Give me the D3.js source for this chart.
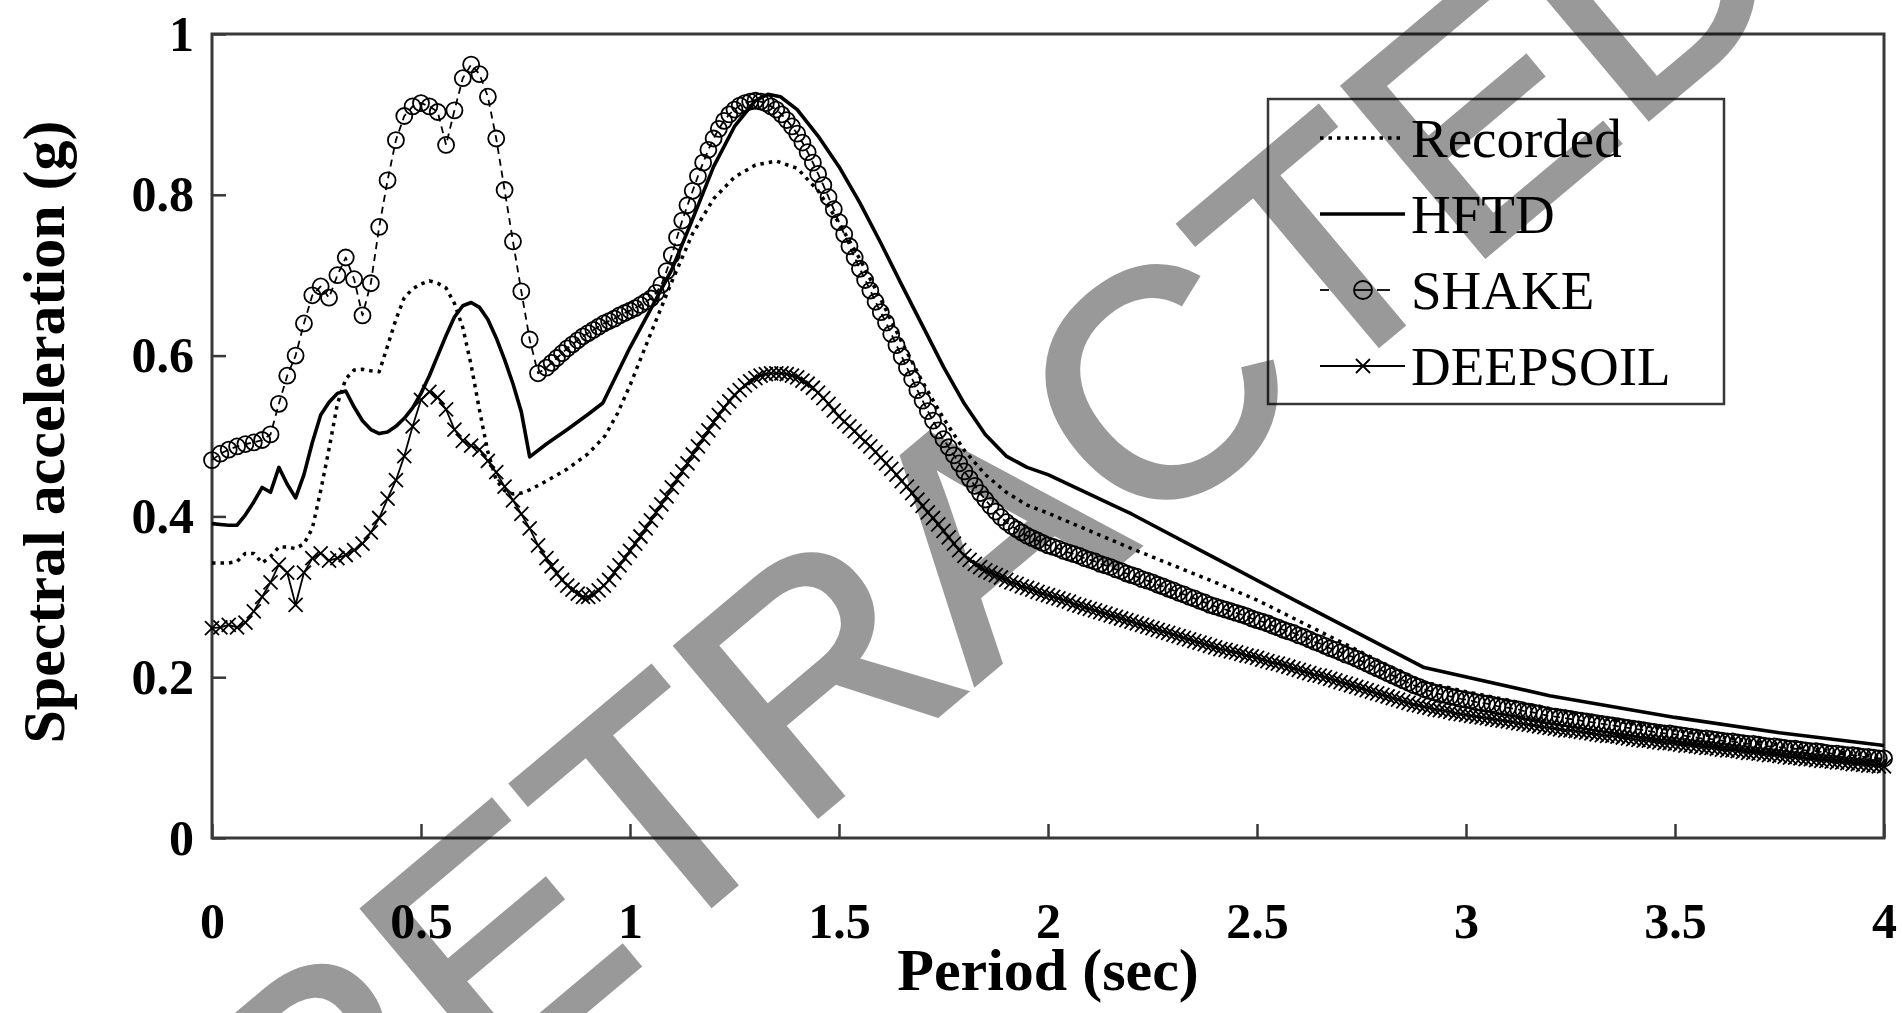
<!DOCTYPE html>
<html>
<head>
<meta charset="utf-8">
<script src="https://cdn.jsdelivr.net/npm/d3@7"></script>
<style>
  html, body { margin: 0; padding: 0; background: #fff; }
  svg { display: block; }
</style>
</head>
<body>
<svg id="chart" width="1902" height="1013"></svg>
<script>
// ---- Axis ticks -------------------------------------------------------
const periodTicks = [0, 0.5, 1, 1.5, 2, 2.5, 3, 3.5, 4];
const accelTicks = [0, 0.2, 0.4, 0.6, 0.8, 1];
const seriesNames = ["Recorded", "HFTD", "SHAKE", "DEEPSOIL"];

// ---- Recorded motion spectrum: [period (s), Sa (g)] ---------------------
const recorded = [
  [0,0.342],[0.02,0.342],[0.04,0.342],[0.06,0.344],[0.08,0.354],[0.10,0.354],[0.12,0.342],[0.14,0.350],
  [0.16,0.362],[0.18,0.362],[0.20,0.360],[0.22,0.366],[0.24,0.385],[0.26,0.432],[0.28,0.484],[0.30,0.540],
  [0.32,0.571],[0.34,0.582],[0.36,0.583],[0.38,0.581],[0.40,0.580],[0.42,0.612],[0.44,0.645],[0.46,0.672],
  [0.48,0.683],[0.50,0.689],[0.52,0.693],[0.54,0.690],[0.56,0.684],[0.58,0.665],[0.60,0.635],[0.62,0.588],
  [0.64,0.532],[0.66,0.480],[0.68,0.445],[0.70,0.432],[0.72,0.428],[0.74,0.429],[0.76,0.433],
  [0.80,0.444],[0.85,0.459],[0.90,0.478],[0.94,0.500],[0.97,0.528],[1.00,0.563],[1.05,0.628],[1.10,0.692],
  [1.15,0.752],[1.20,0.795],[1.25,0.822],[1.30,0.837],[1.35,0.842],[1.40,0.833],[1.45,0.805],[1.50,0.765],
  [1.55,0.720],[1.60,0.670],[1.65,0.617],[1.70,0.567],[1.75,0.522],[1.80,0.482],[1.85,0.452],[1.90,0.430],
  [1.95,0.414],[2.00,0.404],[2.10,0.382],[2.20,0.360],[2.30,0.339],[2.40,0.318],[2.50,0.296],[2.60,0.270],
  [2.70,0.244],[2.80,0.218],[2.90,0.194],[3.00,0.182],[3.20,0.161],[3.40,0.142],[3.60,0.126],[3.80,0.112],
  [4.00,0.101]
];

// ---- HFTD spectrum: [period (s), Sa (g)] --------------------------------
const hftd = [
  [0,0.391],[0.02,0.390],[0.04,0.389],[0.06,0.389],[0.08,0.402],[0.10,0.418],[0.12,0.436],[0.14,0.430],
  [0.16,0.461],[0.18,0.440],[0.20,0.423],[0.22,0.452],[0.24,0.492],[0.26,0.526],[0.28,0.542],[0.30,0.553],
  [0.32,0.556],[0.34,0.536],[0.36,0.519],[0.38,0.508],[0.40,0.503],[0.42,0.505],[0.44,0.512],[0.46,0.522],
  [0.48,0.535],[0.50,0.553],[0.52,0.575],[0.54,0.600],[0.56,0.625],[0.58,0.648],[0.60,0.662],[0.62,0.666],
  [0.64,0.660],[0.66,0.645],[0.68,0.622],[0.70,0.595],[0.72,0.565],[0.74,0.530],[0.76,0.474],[0.80,0.490],
  [0.85,0.508],[0.90,0.527],[0.935,0.541],[1.00,0.610],[1.05,0.658],[1.10,0.707],[1.15,0.770],[1.20,0.835],
  [1.25,0.885],[1.30,0.917],[1.33,0.925],[1.36,0.922],[1.40,0.906],[1.45,0.873],[1.50,0.835],[1.55,0.790],
  [1.60,0.740],[1.65,0.688],[1.70,0.637],[1.75,0.586],[1.80,0.540],[1.85,0.502],[1.90,0.475],[1.95,0.461],
  [2.00,0.452],[2.20,0.403],[2.40,0.348],[2.60,0.293],[2.80,0.239],[2.90,0.212],[3.20,0.177],[3.50,0.150],
  [3.75,0.131],[4.00,0.115]
];

// ---- SHAKE / DEEPSOIL output periods -----------------------------------
// 0.02 s spacing up to 0.78 s, 0.0125 s spacing from 0.8 s to 4 s
const shortPeriods = d3.range(0, 0.79, 0.02);
const longPeriods = d3.range(0.8, 4.0001, 0.0125);

const shakeShort = [
  0.470,0.478,0.483,0.487,0.490,0.492,0.495,0.502,0.540,0.575,
  0.600,0.640,0.675,0.686,0.672,0.700,0.722,0.695,0.650,0.690,
  0.760,0.818,0.868,0.898,0.910,0.914,0.910,0.903,0.862,0.905,
  0.945,0.962,0.950,0.922,0.870,0.806,0.742,0.680,0.620,0.578
];
const shakeLong = [
  0.585,0.591,0.597,0.603,0.609,0.614,0.619,0.624,
  0.628,0.632,0.636,0.640,0.643,0.646,0.650,0.653,
  0.656,0.659,0.663,0.667,0.671,0.678,0.688,0.705,
  0.725,0.747,0.768,0.787,0.805,0.823,0.840,0.856,
  0.870,0.882,0.892,0.900,0.906,0.911,0.914,0.916,
  0.917,0.916,0.914,0.910,0.906,0.900,0.893,0.885,
  0.876,0.865,0.853,0.840,0.826,0.812,0.797,0.782,
  0.766,0.751,0.736,0.722,0.708,0.694,0.681,0.667,
  0.654,0.641,0.627,0.613,0.599,0.585,0.571,0.557,
  0.544,0.531,0.519,0.507,0.496,0.486,0.476,0.466,
  0.456,0.447,0.438,0.429,0.421,0.413,0.406,0.399,
  0.393,0.388,0.384,0.380,0.376,0.373,0.370,0.367,
  0.364,0.362,0.360,0.357,0.355,0.353,0.351,0.348,
  0.346,0.344,0.341,0.339,0.337,0.334,0.332,0.329,
  0.327,0.325,0.322,0.320,0.318,0.315,0.313,0.310,
  0.308,0.305,0.303,0.300,0.298,0.295,0.293,0.290,
  0.288,0.286,0.284,0.282,0.280,0.278,0.276,0.273,
  0.271,0.269,0.267,0.264,0.262,0.259,0.257,0.255,
  0.252,0.250,0.247,0.244,0.242,0.239,0.236,0.234,
  0.231,0.228,0.226,0.223,0.220,0.217,0.214,0.211,
  0.208,0.205,0.202,0.199,0.196,0.193,0.190,0.188,
  0.185,0.183,0.181,0.179,0.178,0.176,0.175,0.173,
  0.172,0.171,0.169,0.168,0.167,0.166,0.164,0.163,
  0.162,0.161,0.160,0.158,0.157,0.156,0.155,0.153,
  0.152,0.151,0.150,0.149,0.148,0.147,0.146,0.145,
  0.144,0.143,0.142,0.141,0.140,0.139,0.138,0.137,
  0.136,0.135,0.134,0.133,0.132,0.131,0.130,0.130,
  0.129,0.128,0.127,0.126,0.125,0.124,0.124,0.123,
  0.122,0.121,0.120,0.120,0.119,0.118,0.117,0.117,
  0.116,0.115,0.114,0.114,0.113,0.112,0.111,0.111,
  0.110,0.109,0.108,0.108,0.107,0.106,0.105,0.105,
  0.104,0.103,0.103,0.102,0.101,0.101,0.100,0.099,
  0.099
];

const deepsoilShort = [
  0.261,0.262,0.265,0.262,0.268,0.282,0.300,0.318,0.340,0.330,
  0.290,0.330,0.348,0.354,0.345,0.348,0.352,0.358,0.366,0.380,
  0.398,0.422,0.445,0.475,0.512,0.545,0.555,0.548,0.533,0.508,
  0.494,0.488,0.483,0.469,0.455,0.437,0.420,0.403,0.385,0.364
];
const deepsoilLong = [
  0.348,0.338,0.329,0.321,0.314,0.309,0.304,0.300,
  0.300,0.303,0.308,0.314,0.321,0.330,0.339,0.348,
  0.357,0.366,0.375,0.385,0.395,0.405,0.415,0.425,
  0.436,0.446,0.456,0.466,0.477,0.487,0.497,0.507,
  0.517,0.526,0.535,0.543,0.551,0.557,0.563,0.568,
  0.572,0.575,0.577,0.578,0.578,0.578,0.577,0.575,
  0.573,0.569,0.565,0.560,0.554,0.547,0.540,0.532,
  0.524,0.518,0.512,0.506,0.499,0.493,0.487,0.480,
  0.473,0.466,0.459,0.452,0.444,0.437,0.429,0.421,
  0.413,0.405,0.398,0.390,0.382,0.374,0.366,0.358,
  0.351,0.346,0.341,0.337,0.333,0.330,0.327,0.324,
  0.321,0.318,0.316,0.313,0.311,0.309,0.306,0.304,
  0.302,0.300,0.298,0.296,0.294,0.291,0.289,0.287,
  0.285,0.283,0.281,0.279,0.277,0.275,0.273,0.271,
  0.269,0.267,0.265,0.263,0.261,0.259,0.257,0.255,
  0.253,0.251,0.249,0.247,0.245,0.243,0.241,0.239,
  0.237,0.235,0.234,0.232,0.231,0.229,0.227,0.226,
  0.224,0.222,0.220,0.218,0.217,0.215,0.213,0.211,
  0.209,0.207,0.205,0.203,0.202,0.200,0.198,0.196,
  0.194,0.192,0.190,0.188,0.186,0.184,0.182,0.180,
  0.178,0.176,0.174,0.172,0.170,0.168,0.166,0.165,
  0.163,0.162,0.160,0.159,0.158,0.157,0.155,0.154,
  0.153,0.152,0.151,0.150,0.149,0.148,0.147,0.146,
  0.145,0.144,0.143,0.142,0.141,0.140,0.139,0.138,
  0.137,0.136,0.135,0.134,0.134,0.133,0.132,0.131,
  0.130,0.129,0.128,0.127,0.127,0.126,0.125,0.124,
  0.123,0.122,0.121,0.121,0.120,0.119,0.118,0.118,
  0.117,0.116,0.115,0.115,0.114,0.113,0.112,0.112,
  0.111,0.110,0.109,0.109,0.108,0.107,0.106,0.106,
  0.105,0.104,0.103,0.103,0.102,0.101,0.100,0.100,
  0.099,0.098,0.098,0.097,0.096,0.096,0.095,0.094,
  0.094,0.093,0.092,0.092,0.091,0.090,0.090,0.089,
  0.089
];

// ---- Build point series -------------------------------------------------
const zipPeriods = (periods, values) => periods.map((p, i) => [p, values[i]]);
const shake = zipPeriods(shortPeriods, shakeShort).concat(zipPeriods(longPeriods, shakeLong));
const deepsoil = zipPeriods(shortPeriods, deepsoilShort).concat(zipPeriods(longPeriods, deepsoilLong));

// ---- Layout -------------------------------------------------------------
const svg = d3.select("#chart");
const W = 1902, H = 1013;
const plot = { left: 212, right: 1884, top: 34, bottom: 838 };

svg.append("rect").attr("width", W).attr("height", H).attr("fill", "#fff");

const x = d3.scaleLinear().domain([0, 4]).range([plot.left, plot.right]);
const y = d3.scaleLinear().domain([0, 1]).range([plot.bottom, plot.top]);

const serif = "'Liberation Serif', 'Times New Roman', Times, serif";
const frameColor = "#383838";

// Axes with inward ticks
const yAxis = d3.axisLeft(y).tickValues(accelTicks).tickFormat(d => String(d))
  .tickSizeInner(-14).tickSizeOuter(0).tickPadding(18);
const xAxis = d3.axisBottom(x).tickValues(periodTicks).tickFormat(d => String(d))
  .tickSizeInner(-14).tickSizeOuter(0).tickPadding(64);

const gy = svg.append("g").attr("transform", `translate(${plot.left},0)`).call(yAxis);
const gx = svg.append("g").attr("transform", `translate(0,${plot.bottom})`).call(xAxis);
[gx, gy].forEach(g => {
  g.select(".domain").remove();
  g.selectAll(".tick line").attr("stroke", frameColor).attr("stroke-width", 2.5);
  g.selectAll(".tick text")
    .attr("fill", "#000")
    .style("font-family", serif)
    .style("font-weight", "bold")
    .style("font-size", "50px");
});

// Plot frame
svg.append("rect")
  .attr("x", plot.left).attr("y", plot.top)
  .attr("width", plot.right - plot.left).attr("height", plot.bottom - plot.top)
  .attr("fill", "none").attr("stroke", frameColor).attr("stroke-width", 3);

// Axis titles
svg.append("text")
  .attr("x", (plot.left + plot.right) / 2).attr("y", 990)
  .attr("text-anchor", "middle")
  .style("font-family", serif).style("font-weight", "bold").style("font-size", "60px")
  .text("Period (sec)");

svg.append("text")
  .attr("transform", `translate(64,${(plot.top + plot.bottom) / 2 - 4}) rotate(-90)`)
  .attr("text-anchor", "middle")
  .style("font-family", serif).style("font-weight", "bold").style("font-size", "60px")
  .text("Spectral acceleration (g)");

// ---- Series -------------------------------------------------------------
const line = d3.line().x(d => x(d[0])).y(d => y(d[1]));
const marks = svg.append("g");

const styles = {
  Recorded: { width: 3.5, dash: "3.5 5" },
  HFTD: { width: 3.6, dash: null },
  SHAKE: { width: 1.8, dash: "7 5" },
  DEEPSOIL: { width: 1.8, dash: null }
};

function drawLine(data, name) {
  const s = styles[name];
  marks.append("path")
    .datum(data)
    .attr("d", line)
    .attr("fill", "none")
    .attr("stroke", "#000")
    .attr("stroke-width", s.width)
    .attr("stroke-dasharray", s.dash)
    .attr("stroke-linejoin", "round");
}

drawLine(recorded, "Recorded");
drawLine(shake, "SHAKE");
drawLine(deepsoil, "DEEPSOIL");
drawLine(hftd, "HFTD");

const crossPath = "M-7,-7L7,7M-7,7L7,-7";

marks.append("g").selectAll("path")
  .data(deepsoil)
  .join("path")
  .attr("transform", d => `translate(${x(d[0])},${y(d[1])})`)
  .attr("d", crossPath)
  .attr("fill", "none")
  .attr("stroke", "#000")
  .attr("stroke-width", 1.8);

marks.append("g").selectAll("circle")
  .data(shake)
  .join("circle")
  .attr("cx", d => x(d[0]))
  .attr("cy", d => y(d[1]))
  .attr("r", 8)
  .attr("fill", "none")
  .attr("stroke", "#000")
  .attr("stroke-width", 1.8);

// ---- Legend -------------------------------------------------------------
const legend = svg.append("g");
legend.append("rect")
  .attr("x", 1268).attr("y", 99).attr("width", 456).attr("height", 305)
  .attr("fill", "#fff").attr("stroke", frameColor).attr("stroke-width", 2.5);

const rowY = [138, 214, 290, 366];
const sx0 = 1320, sx1 = 1405, sxm = 1363;

seriesNames.forEach((name, i) => {
  const yy = rowY[i];
  const s = styles[name];
  if (name === "SHAKE") {
    // dashed sample: short dash, dash through the marker, short dash
    [[sx0, sx0 + 9], [sxm - 8, sxm + 8], [sxm + 14, sxm + 27]].forEach(([a, b]) => {
      legend.append("line").attr("x1", a).attr("x2", b).attr("y1", yy).attr("y2", yy)
        .attr("stroke", "#000").attr("stroke-width", s.width);
    });
    legend.append("circle").attr("cx", sxm).attr("cy", yy).attr("r", 9)
      .attr("fill", "none").attr("stroke", "#000").attr("stroke-width", 1.8);
  } else {
    legend.append("line").attr("x1", sx0).attr("x2", sx1).attr("y1", yy).attr("y2", yy)
      .attr("stroke", "#000").attr("stroke-width", s.width)
      .attr("stroke-dasharray", s.dash);
    if (name === "DEEPSOIL") {
      legend.append("path").attr("transform", `translate(${sxm},${yy})`).attr("d", crossPath)
        .attr("fill", "none").attr("stroke", "#000").attr("stroke-width", 1.8);
    }
  }
  legend.append("text")
    .attr("x", 1411).attr("y", yy).attr("dy", "0.35em")
    .style("font-family", serif).style("font-size", "55px")
    .text(name);
});

// ---- Retraction stamp ---------------------------------------------------
svg.append("text")
  .attr("transform", "translate(308,1243) rotate(-40)")
  .style("font-family", "'Liberation Sans', Arial, Helvetica, sans-serif")
  .style("font-size", "320px")
  .style("mix-blend-mode", "multiply")
  .attr("fill", "#999")
  .attr("stroke", "#999")
  .attr("stroke-width", 6)
  .attr("stroke-linejoin", "miter")
  .text("RETRACTED");
</script>
</body>
</html>
